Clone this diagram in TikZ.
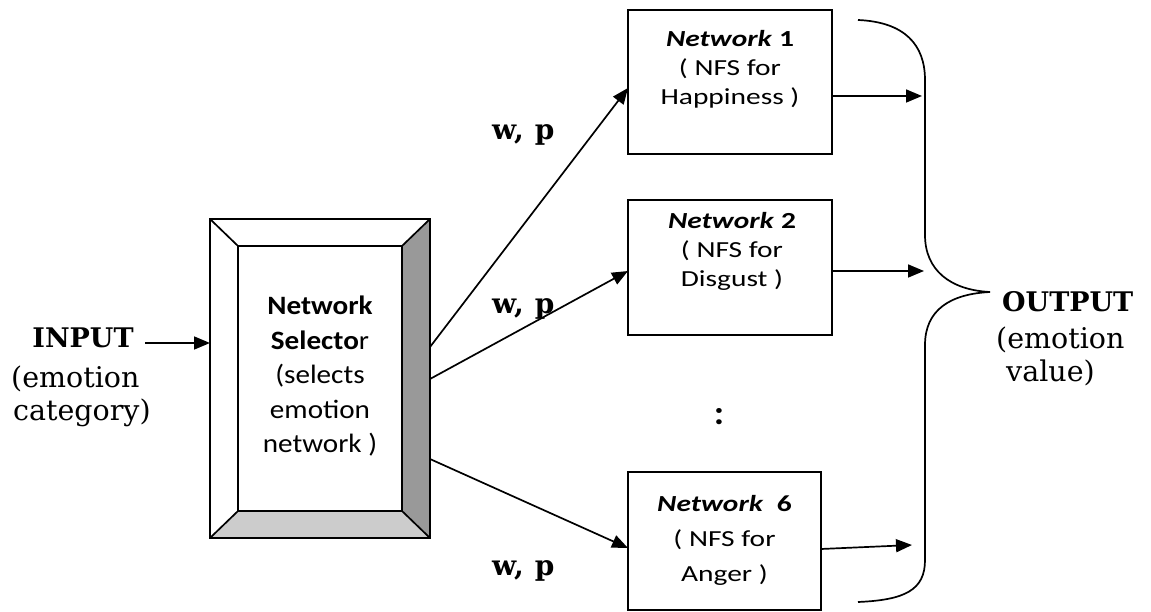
\documentclass[tikz,border=0pt]{standalone}
\usepackage{fontspec}
\setmainfont{DejaVu Serif}
\newfontfamily\boxfont[FakeStretch=1.28]{Carlito}
\newfontfamily\selfont[FakeStretch=1.1]{Carlito}
\usetikzlibrary{arrows.meta}
\definecolor{bevelDark}{HTML}{999999}
\definecolor{bevelLight}{HTML}{CCCCCC}

\begin{document}
\begin{tikzpicture}[x=1pt,y=-1pt,
  arr/.style={-{Triangle[length=16pt,width=13pt]}, line width=1.7pt},
  netbox/.style={draw, line width=1.9pt, rectangle, inner sep=0pt, outer sep=0pt},
  boxtext/.style={font=\boxfont\fontsize{23}{29}\selectfont, align=center, inner sep=0pt},
  seltext/.style={font=\selfont\fontsize{26.5}{34.5}\selectfont, align=center, inner sep=0pt},
  serifbold/.style={font=\fontsize{27}{32}\selectfont\bfseries, inner sep=0pt},
  seriftext/.style={font=\fontsize{28.5}{33}\selectfont, inner sep=0pt},
  wplabel/.style={font=\fontsize{28}{32}\selectfont\bfseries, inner sep=0pt, anchor=base west},
  bevel/.style={draw, line width=1.7pt, line join=miter}
]
\useasboundingbox (0,0) rectangle (1151,612);

% ---- network selector: bevelled frame ----
\node[netbox, minimum width=220pt, minimum height=319pt] (sel) at (320,378.5) {};
\node[netbox, minimum width=164pt, minimum height=265pt] (selin) at (320,378.5) {};
\fill[white] (sel.north west) -- (sel.north east) -- (selin.north east) -- (selin.north west) -- cycle;
\fill[white] (sel.north west) -- (selin.north west) -- (selin.south west) -- (sel.south west) -- cycle;
\fill[bevelDark] (sel.north east) -- (sel.south east) -- (selin.south east) -- (selin.north east) -- cycle;
\fill[bevelLight] (sel.south west) -- (sel.south east) -- (selin.south east) -- (selin.south west) -- cycle;
\draw[bevel] (sel.north west) rectangle (sel.south east);
\draw[bevel] (selin.north west) rectangle (selin.south east);
\draw[bevel] (sel.north west) -- (selin.north west);
\draw[bevel] (sel.north east) -- (selin.north east);
\draw[bevel] (sel.south west) -- (selin.south west);
\draw[bevel] (sel.south east) -- (selin.south east);
\node[seltext] (seltxt) at (320,377)
  {\strut\textbf{Network}\\\strut\textbf{Selecto}r\\\strut(selects\\\strut emotion\\\strut network )};

% ---- emotion networks ----
\node[netbox, minimum width=204pt, minimum height=144pt] (net1) at (730,82) {};
\node[netbox, minimum width=204pt, minimum height=135pt] (net2) at (730,267.5) {};
\node[netbox, minimum width=193pt, minimum height=138pt] (net6) at (724.5,541) {};
\node[boxtext] (net1txt) at (730,70.2)
  {\strut\textbf{\textit{Network}} \textbf{1}\\\strut( NFS for\\\strut Happiness )};
\node[boxtext] (net2txt) at (732,252.2)
  {\strut\textbf{\textit{Network}} \textbf{2}\\\strut( NFS for\\\strut Disgust )};
\node[boxtext, font=\boxfont\fontsize{23}{35}\selectfont] (net6txt) at (724.5,539)
  {\strut\textbf{\textit{Network}}\ \ \textbf{6}\\\strut( NFS for\\\strut Anger )};
\node[font=\selfont\fontsize{34}{36}\selectfont\bfseries, inner sep=0pt] (dots) at (719,417) {:};

% ---- input ----
\node[serifbold, anchor=base] (inp) at (83,347) {INPUT};
\node[seriftext, align=left, anchor=west] (inpsub) at (11,396) {(emotion\\\hspace*{2pt}category)};
\coordinate (inA) at (145,343);
\draw[arr] (inA) -- (sel.west |- inA);

% ---- selector to networks ----
\draw[arr] ([yshift=31.5pt]sel.east) -- ([yshift=-6pt]net1.west);
\draw[arr] ([yshift=-0.5pt]sel.east) -- ([yshift=-3.5pt]net2.west);
\draw[arr] ([yshift=-80.5pt]sel.east) -- ([yshift=-7pt]net6.west);
\node[wplabel] (wp1) at (492,140) {w,\hspace{11pt}p};
\node[wplabel] (wp2) at (492,313) {w,\hspace{11pt}p};
\node[wplabel] (wp3) at (492,575) {w,\hspace{11pt}p};

% ---- outputs gathered by the brace ----
\coordinate (o1) at (922,96);
\coordinate (o2) at (924,271);
\coordinate (o6) at (912,545);
\draw[arr] ([yshift=-14pt]net1.east) -- (o1);
\draw[arr] ([yshift=-3.5pt]net2.east) -- (o2);
\draw[arr] ([yshift=-8pt]net6.east) -- (o6);
\draw[line width=1.7pt] (858,20) .. controls (905,22) and (925,45) .. (925,80)
  -- (925,235) .. controls (925,270) and (950,290) .. (990,292)
  .. controls (950,294) and (925,310) .. (925,345)
  -- (925,560) .. controls (925,590) and (905,600) .. (858,602);
\node[serifbold, anchor=base west] (outp) at (1002,312) {OUTPUT};
\node[seriftext, align=left, anchor=west] (outsub) at (996,356.2) {(emotion\\\hspace*{10pt}value)};
\end{tikzpicture}
\end{document}
